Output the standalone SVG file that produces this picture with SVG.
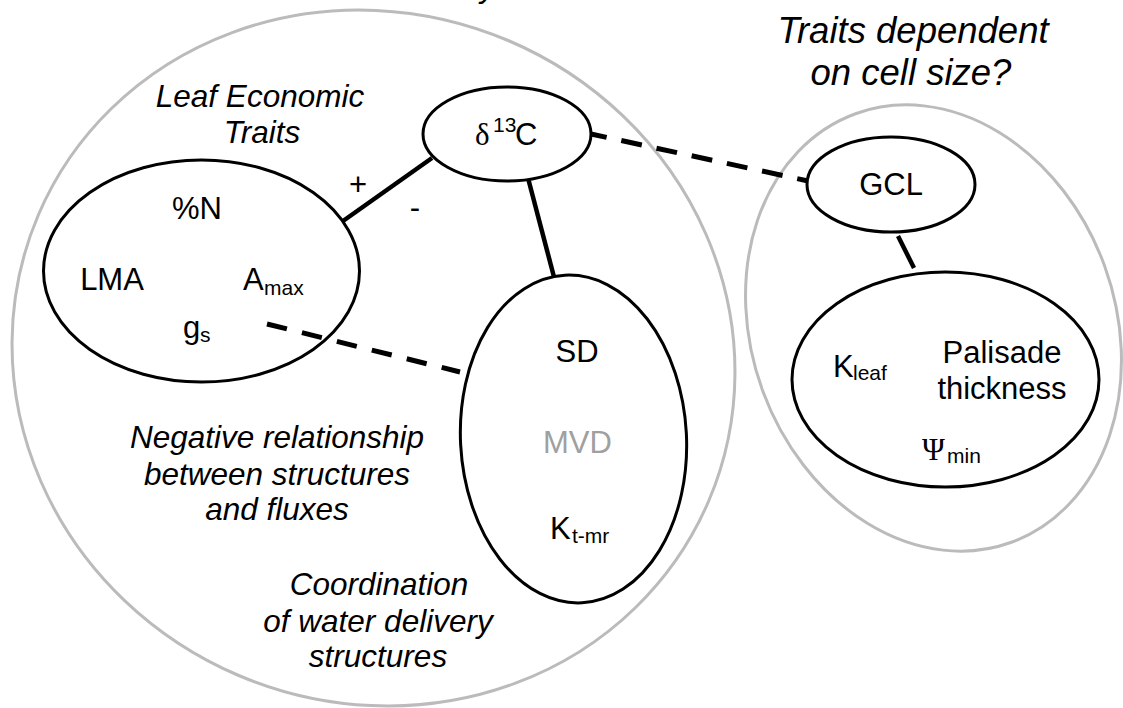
<svg xmlns="http://www.w3.org/2000/svg" width="1123" height="708" viewBox="0 0 1123 708">
  <style>
    .grp { fill: none; stroke: #bbbbbb; stroke-width: 3; }
    .node { fill: #ffffff; stroke: #000000; stroke-width: 3; }
    .solid { stroke: #000000; stroke-width: 4.5; stroke-linecap: butt; fill: none; }
    .dash { stroke: #000000; stroke-width: 5; fill: none; }
    text { font-family: "Liberation Sans", Arial, sans-serif; fill: #000000; }
    .lbl { font-size: 31px; }
    .sub { font-size: 21px; }
    .note { font-size: 31.5px; font-style: italic; text-anchor: middle; }
    .head { font-size: 36.5px; font-style: italic; text-anchor: middle; }
    .greek { font-family: "Liberation Serif", "Times New Roman", serif; }
  </style>

  <!-- heading whose upper part lies above the canvas -->
  <text class="note" x="488" y="-3">y</text>

  <!-- group outlines -->
  <g id="groups">
    <ellipse id="group-left" class="grp" cx="373.5" cy="358" rx="364.4" ry="344.9" transform="rotate(23.1 373.5 358)"/>
    <ellipse id="group-right" class="grp" cx="933.5" cy="328" rx="182" ry="228" transform="rotate(-20 933.5 328)"/>
  </g>

  <!-- group captions -->
  <g id="captions">
    <text class="note" x="260" y="107">Leaf Economic</text>
    <text class="note" x="262" y="143">Traits</text>
    <text class="note" x="277" y="448">Negative relationship</text>
    <text class="note" x="277" y="485">between structures</text>
    <text class="note" x="277" y="520">and fluxes</text>
    <text class="note" x="379" y="595">Coordination</text>
    <text class="note" x="378" y="632">of water delivery</text>
    <text class="note" x="378" y="667">structures</text>
    <text class="head" x="913" y="43">Traits dependent</text>
    <text class="head" x="911" y="85">on cell size?</text>
  </g>

  <!-- connectors -->
  <g id="connectors">
    <line class="solid" x1="343" y1="221" x2="432" y2="158"/>
    <line class="solid" x1="528" y1="178" x2="554" y2="277"/>
    <line class="solid" x1="898" y1="236" x2="914" y2="268"/>
    <line class="dash" x1="591" y1="134" x2="808" y2="181" stroke-dasharray="21 15" stroke-dashoffset="5"/>
    <line class="dash" x1="267" y1="324" x2="460" y2="372" stroke-dasharray="20.5 15.5"/>
    <text class="lbl" x="358" y="195" text-anchor="middle">+</text>
    <text class="lbl" x="415" y="218" text-anchor="middle">-</text>
  </g>

  <!-- leaf economic traits -->
  <g id="node-les">
    <ellipse class="node" cx="201.5" cy="271" rx="158" ry="111" fill="none" style="fill:none"/>
    <text class="lbl" x="197" y="219" text-anchor="middle">%N</text>
    <text class="lbl" x="112" y="290" text-anchor="middle">LMA</text>
    <text class="lbl" x="243" y="290">A<tspan class="sub" x="264" y="295">max</tspan></text>
    <text class="lbl" x="183" y="338">g<tspan class="sub" x="200" y="342">s</tspan></text>
  </g>

  <!-- carbon isotope ratio -->
  <g id="node-d13c">
    <ellipse class="node" cx="507" cy="134" rx="84" ry="47"/>
    <text class="lbl" y="145"><tspan class="greek" x="475">δ</tspan><tspan class="sub" x="493" y="132">13</tspan><tspan x="515" y="145">C</tspan></text>
  </g>

  <!-- water delivery structures -->
  <g id="node-sd">
    <ellipse class="node" cx="573.5" cy="439" rx="113" ry="164" transform="rotate(-3 573.5 439)" style="fill:none"/>
    <text class="lbl" x="577" y="362" text-anchor="middle">SD</text>
    <text class="lbl" x="577.5" y="453" text-anchor="middle" fill="#a0a0a0" style="fill:#a0a0a0">MVD</text>
    <text class="lbl" x="550" y="539">K<tspan class="sub" x="572" y="543">t-mr</tspan></text>
  </g>

  <!-- guard cell length -->
  <g id="node-gcl">
    <ellipse class="node" cx="891" cy="184.5" rx="84" ry="47.5"/>
    <text class="lbl" x="891" y="195" text-anchor="middle">GCL</text>
  </g>

  <!-- cell size traits -->
  <g id="node-palisade">
    <ellipse class="node" cx="945.5" cy="379.5" rx="153.5" ry="107.5"/>
    <text class="lbl" x="833" y="377">K<tspan class="sub" x="853" y="380">leaf</tspan></text>
    <text class="lbl" x="1002" y="363" text-anchor="middle">Palisade</text>
    <text class="lbl" x="1002" y="399" text-anchor="middle">thickness</text>
    <text class="lbl" y="460"><tspan class="greek" x="922">Ψ</tspan><tspan class="sub" x="947" y="463">min</tspan></text>
  </g>
</svg>
